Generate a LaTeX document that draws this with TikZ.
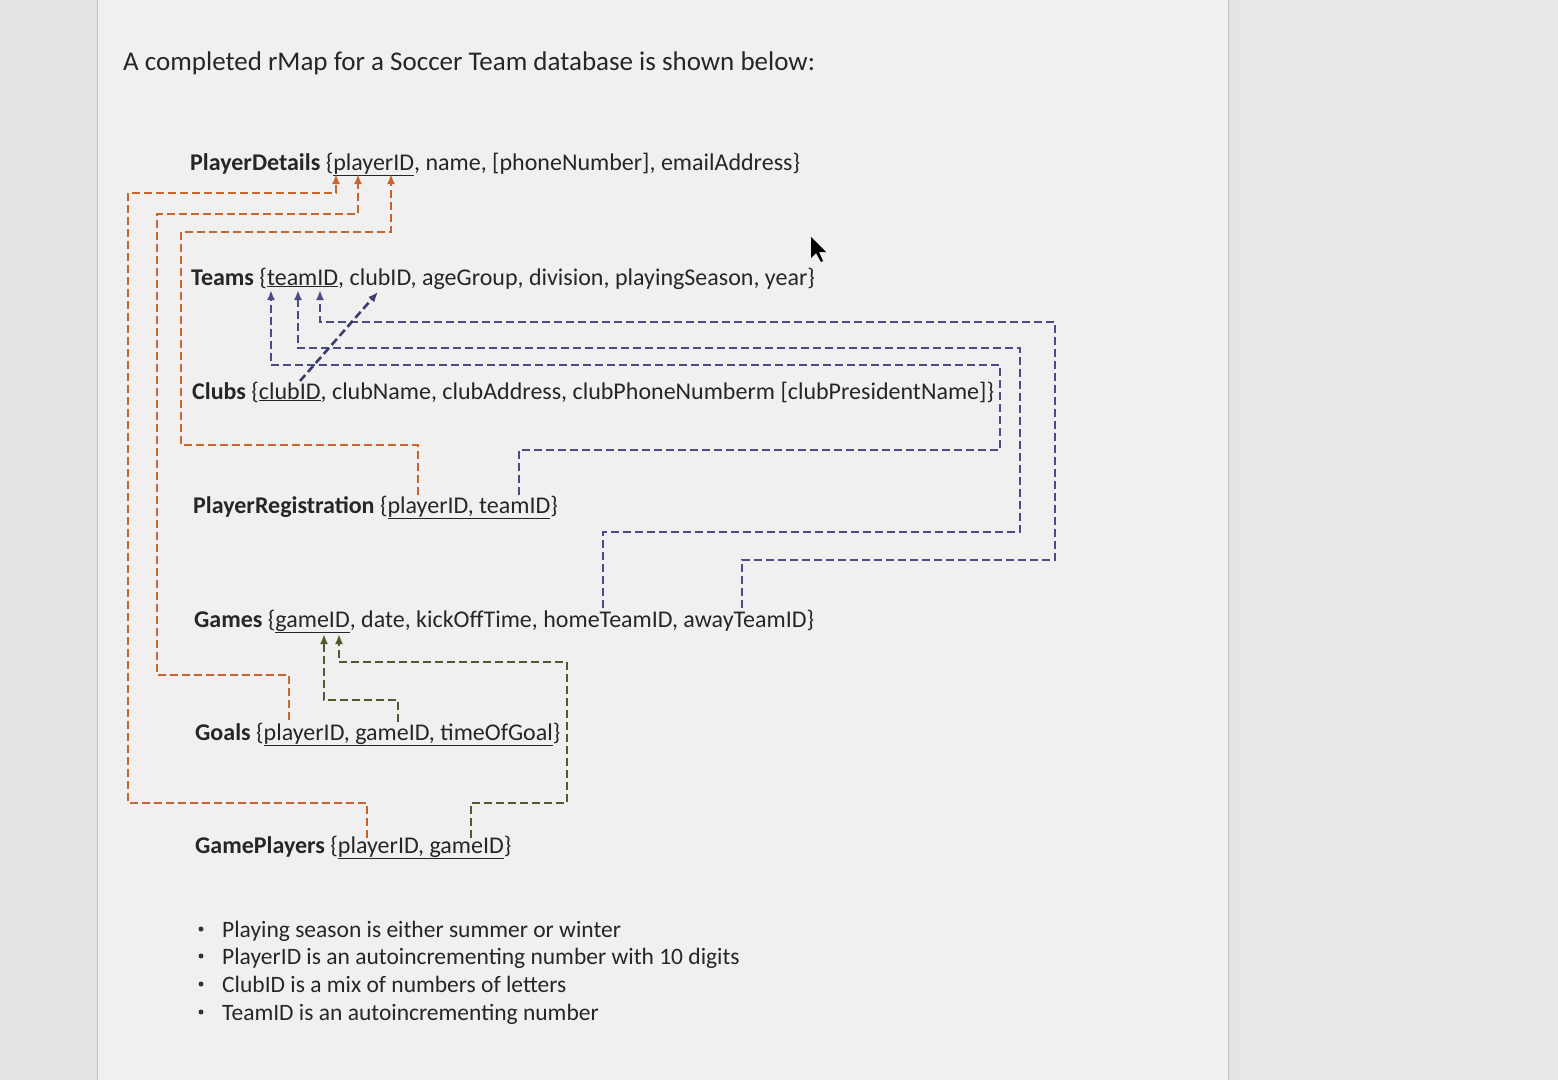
\documentclass[tikz,border=0pt]{standalone}
\usepackage{fontspec}
\setmainfont{Carlito}
\usetikzlibrary{arrows.meta}
\definecolor{org}{HTML}{C8652C}
\definecolor{nav}{HTML}{4B4C86}
\definecolor{grn}{HTML}{4F5B2E}
\begin{document}
\begin{tikzpicture}[x=1pt,y=-1pt,
  tbl/.style={anchor=base west,inner sep=0pt,font=\fontsize{24}{28}\selectfont,text=black!85},
  bul/.style={anchor=base west,inner sep=0pt,font=\fontsize{23.5}{28}\selectfont,text=black!85},
  lk/.style={dashed,dash pattern=on 8pt off 4pt,line width=2.6pt},
  ar/.style={lk,-{Latex[length=10pt,width=8pt]}}]
\useasboundingbox (0,0) rectangle (1558,1080);
\fill[gray!22] (0,0) rectangle (1558,1080);
\fill[gray!12] (97,0) rectangle (1228,1080);
\draw[gray!50,line width=1pt] (97,0) -- (97,1080) (1228,0) -- (1228,1080) (1240,0)--(1240,1080);
\fill[gray!18] (1240,0) rectangle (1558,1080);
\node[anchor=base west,inner sep=0pt,font=\fontsize{27}{32}\selectfont,text=black!85] (title) at (123,70) {A completed rMap for a Soccer Team database is shown below:};
\node[tbl] (pd) at (190,170) {\textbf{PlayerDetails} \{\underline{playerID}, name, [phoneNumber], emailAddress\}};
\node[tbl] (tm) at (191,285) {\textbf{Teams} \{\underline{teamID}, clubID, ageGroup, division, playingSeason, year\}};
\node[tbl] (cl) at (192,399) {\textbf{Clubs} \{\underline{clubID}, clubName, clubAddress, clubPhoneNumberm [clubPresidentName]\}};
\node[tbl] (pr) at (193,513) {\textbf{PlayerRegistration} \{\underline{playerID, teamID}\}};
\node[tbl] (gm) at (194,627) {\textbf{Games} \{\underline{gameID}, date, kickOffTime, homeTeamID, awayTeamID\}};
\node[tbl] (gl) at (195,740) {\textbf{Goals} \{\underline{playerID, gameID, timeOfGoal}\}};
\node[tbl] (gp) at (195,853) {\textbf{GamePlayers} \{\underline{playerID, gameID}\}};
\foreach \y/\t [count=\i] in {937/Playing season is either summer or winter,964/PlayerID is an autoincrementing number with 10 digits,992/ClubID is a mix of numbers of letters,1020/TeamID is an autoincrementing number}{
  \node[bul] (b\i) at (222,\y) {\t};
  \fill[black!80] (201,\y-8) circle (2.5pt);
}
% orange
\coordinate (o1) at (336,174); \coordinate (o2) at (358,174); \coordinate (o3) at (391,174);
\draw[ar,org] (367,838) -- (367,803) -- (128,803) -- (128,193) -- (336,193) -- (o1);
\draw[ar,org] (289,720) -- (289,675) -- (157,675) -- (157,214) -- (358,214) -- (o2);
\draw[ar,org] (418,495) -- (418,445) -- (181,445) -- (181,232) -- (391,232) -- (o3);
% navy
\coordinate (n1) at (271,290); \coordinate (n2) at (298,290); \coordinate (n3) at (320,290);
\draw[ar,nav] (519,495) -- (519,450) -- (1000,450) -- (1000,365) -- (271,365) -- (n1);
\draw[ar,nav] (603,608) -- (603,532) -- (1020,532) -- (1020,348) -- (298,348) -- (n2);
\draw[ar,nav] (742,608) -- (742,560) -- (1055,560) -- (1055,322) -- (320,322) -- (n3);
\draw[ar,nav!80!black] (300,381) -- (378,292);
% green
\draw[ar,grn] (398,722) -- (398,700) -- (324,700) -- (324,634);
\draw[ar,grn] (471,838) -- (471,803) -- (567,803) -- (567,662) -- (339,662) -- (339,634);
% cursor
\fill[black] (811,237) -- (811,258) -- (816,253) -- (821,262) -- (823,261) -- (819,252) -- (826,252) -- cycle;
\end{tikzpicture}
\end{document}
